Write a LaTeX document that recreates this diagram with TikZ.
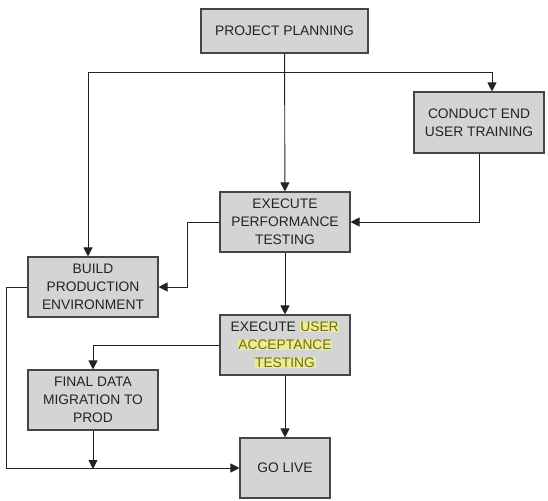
\documentclass[tikz,border=0pt]{standalone}
\usepackage{fontspec}
\setmainfont{Liberation Sans}
\usepackage{xcolor}
\definecolor{boxgray}{RGB}{212, 212, 212}
\definecolor{edgegray}{RGB}{70, 70, 70}
\definecolor{inkgray}{RGB}{35, 35, 35}
\definecolor{hlyellow}{RGB}{236, 236, 150}
\definecolor{hlolive}{RGB}{110, 110, 25}
\usepackage{tikz}
\usetikzlibrary{arrows.meta}

\newcommand{\hlword}[1]{{\setlength{\fboxsep}{0.6pt}\colorbox{hlyellow}{\color{hlolive}#1}}}

\tikzset{
  etape/.style={
    draw=edgegray,
    line width=1.1pt,
    fill=boxgray,
    text=inkgray,
    align=center,
    inner sep=2pt,
    minimum width=130pt,
    minimum height=60pt,
    font=\fontsize{13.8}{18}\selectfont
  },
  fleche/.style={
    draw=inkgray,
    line width=0.9pt,
    -{Triangle[width=9pt,length=9pt]}
  }
}

\begin{document}
\begin{tikzpicture}[x=1pt,y=-1pt]
    \useasboundingbox (0,0) rectangle (548,500);

    % boites
    \node[etape, minimum width=167pt, minimum height=44pt] (plan) at (284.5,31) {PROJECT PLANNING};
    \node[etape, minimum height=61pt] (training) at (479,122.5) {CONDUCT END\\USER TRAINING};
    \node[etape] (perf) at (285,222) {EXECUTE\\PERFORMANCE\\TESTING};
    \node[etape] (build) at (93,287) {BUILD\\PRODUCTION\\ENVIRONMENT};
    \node[etape] (uat) at (285,345) {EXECUTE \hlword{USER}\\\hlword{ACCEPTANCE}\\\hlword{TESTING}};
    \node[etape] (migr) at (93,400) {FINAL DATA\\MIGRATION TO\\PROD};
    \node[etape, minimum width=90pt] (golive) at (285,468) {GO LIVE};

    \coordinate (fork) at (284.5,72);

    % liens
    \draw[fleche] (plan) -- (perf);
    \draw[fleche] (fork) -| ([xshift=-5pt]build.north);
    \draw[fleche] (fork) -| ([xshift=13pt]training.north);
    \draw[fleche] (training.south) |- (perf.east);
    \draw[fleche] (perf.west) -- ++(-32,0) |- (build.east);
    \draw[fleche] (perf) -- (uat);
    \draw[fleche] (uat.west) -| (migr.north);
    \draw[fleche] (uat) -- (golive);
    \draw[fleche] (build.west) -- ++(-21,0) |- (golive.west);
    \draw[fleche] (migr.south) -- ([yshift=-1pt]migr.south |- golive.west);
  \end{tikzpicture}
\end{document}
